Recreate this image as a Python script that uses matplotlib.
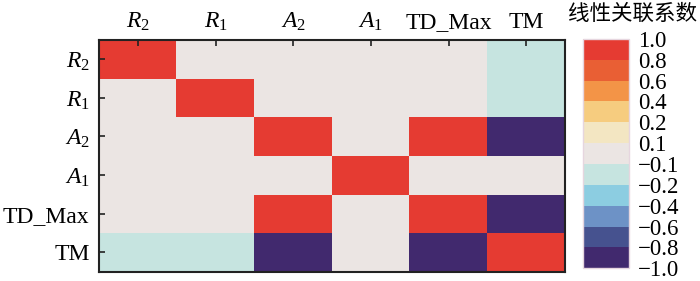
import numpy as np
import matplotlib
matplotlib.use("Agg")
import matplotlib.pyplot as plt
from matplotlib.colors import ListedColormap, BoundaryNorm

labels = [r"$R_2$", r"$R_1$", r"$A_2$", r"$A_1$", "TD_Max", "TM"]
matrix = [
    [1.0, 0.0, 0.0, 0.0, 0.0, -0.15],
    [0.0, 1.0, 0.0, 0.0, 0.0, -0.15],
    [0.0, 0.0, 1.0, 0.0, 0.95, -0.95],
    [0.0, 0.0, 0.0, 1.0, 0.0, 0.0],
    [0.0, 0.0, 0.95, 0.0, 1.0, -0.95],
    [-0.15, -0.15, -0.95, 0.0, -0.95, 1.0],
]
bounds = [-1.0, -0.8, -0.6, -0.4, -0.2, -0.1, 0.1, 0.2, 0.4, 0.6, 0.8, 1.0]
bound_labels = ["\u22121.0", "\u22120.8", "\u22120.6", "\u22120.4", "\u22120.2", "\u22120.1",
                "0.1", "0.2", "0.4", "0.6", "0.8", "1.0"]
colors = ["#41296e", "#46528f", "#6d92c6", "#8ccde1", "#c6e4e0", "#ebe5e3",
          "#f3e6c2", "#f6cc7f", "#f39447", "#e95f34", "#e53b32"]
cbar_title = "线性关联系数"

plt.rcParams['font.family'] = ['Liberation Serif', 'Noto Sans CJK SC']
plt.rcParams['mathtext.fontset'] = 'custom'
plt.rcParams['mathtext.rm'] = 'Liberation Serif'
plt.rcParams['mathtext.it'] = 'Liberation Serif:italic'

fig = plt.figure(figsize=(7, 2.81), dpi=100)
ax = fig.add_axes([0.142, 0.033, 0.665, 0.825])
cmap = ListedColormap(colors)
norm = BoundaryNorm(bounds, cmap.N)
data = np.array(matrix)
im = ax.imshow(data, cmap=cmap, norm=norm, aspect='auto', interpolation='nearest')

n = len(labels)
ax.set_xticks(range(n))
ax.set_yticks(range(n))
ax.set_xticklabels(labels, fontsize=17)
ax.set_yticklabels(labels, fontsize=17)
ax.xaxis.tick_top()
ax.tick_params(axis='both', direction='in', length=4, width=1.2, color='#222222')
ax.tick_params(axis='x', pad=5)
ax.tick_params(axis='y', pad=7)
for s in ax.spines.values():
    s.set_linewidth(1.5)
    s.set_color('#222222')

cax = fig.add_axes([0.833, 0.045, 0.066, 0.817])
cb = fig.colorbar(im, cax=cax, boundaries=bounds, ticks=bounds, spacing='uniform')
cb.ax.set_yticklabels(bound_labels, fontsize=16.5)
cb.ax.tick_params(length=0, pad=6)
cb.outline.set_edgecolor('#e6d6df')
cb.outline.set_linewidth(1.0)

fig.text(0.812, 0.95, cbar_title, fontsize=15.5, family=['Noto Sans CJK SC'], va='center', ha='left')

fig.savefig("out.png", dpi=100)
